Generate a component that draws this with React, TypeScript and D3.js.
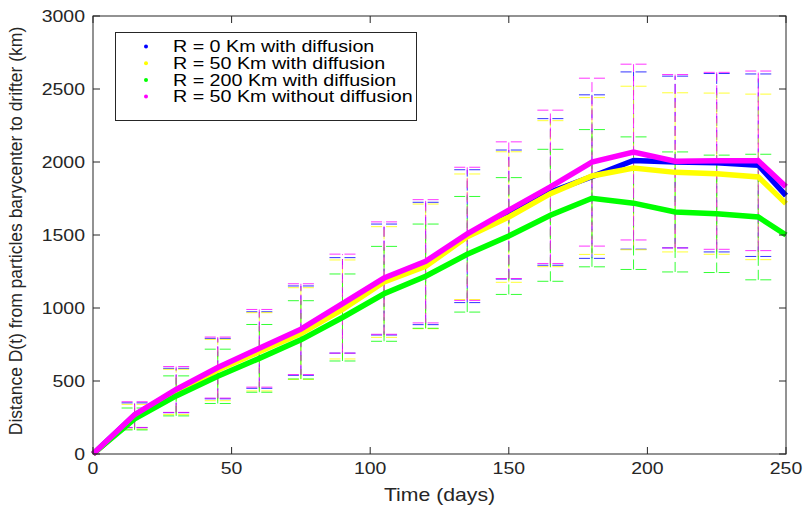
import React from 'react';
import * as d3 from 'd3';

const days = [0, 15, 30, 45, 60, 75, 90, 105, 120, 135, 150, 165, 180, 195, 210, 225, 240, 250];

const seriesLabels = [
  'R = 0 Km with diffusion',
  'R = 50 Km with diffusion',
  'R = 200 Km with diffusion',
  'R = 50 Km without diffusion',
];
const seriesColors = ['#0000ff', '#ffff00', '#00ff00', '#ff00ff'];

const r0Diff = [0, 265, 435, 585, 712, 845, 1018, 1195, 1305, 1492, 1640, 1795, 1900, 2010, 2000, 1995, 1978, 1770];
const r50Diff = [0, 255, 425, 575, 700, 825, 990, 1178, 1285, 1488, 1623, 1783, 1904, 1959, 1929, 1920, 1898, 1715];
const r200Diff = [0, 240, 398, 532, 655, 782, 935, 1097, 1218, 1368, 1493, 1635, 1752, 1718, 1658, 1645, 1623, 1500];
const r50NoDiff = [0, 270, 442, 592, 724, 855, 1030, 1205, 1320, 1508, 1670, 1830, 1999, 2068, 2005, 2008, 2008, 1830];

const r0DiffErr = [null, 85, 152, 207, 262, 306, 327, 380, 419, 455, 442, 502, 560, 607, 588, 611, 625, null];
const r50DiffErr = [null, 85, 155, 210, 268, 314, 339, 379, 427, 430, 447, 500, 537, 560, 545, 552, 567, null];
const r200DiffErr = [null, 75, 137, 186, 232, 268, 298, 325, 357, 396, 400, 452, 470, 454, 411, 402, 430, null];
const r50NoDiffErr = [null, 88, 157, 209, 266, 311, 339, 385, 422, 456, 468, 525, 575, 602, 594, 606, 615, null];

const xTicks = [0, 50, 100, 150, 200, 250];
const yTicks = [0, 500, 1000, 1500, 2000, 2500, 3000];

const means = [r0Diff, r50Diff, r200Diff, r50NoDiff];
const errs = [r0DiffErr, r50DiffErr, r200DiffErr, r50NoDiffErr];

const FONT = '"Liberation Sans", Arial, Helvetica, sans-serif';
const AX = '#262626';

function T(props: { x: number; y: number; anchor?: string; size: number; sx?: number; fill?: string; children: React.ReactNode }) {
  return (
    <text
      transform={`translate(${props.x},${props.y}) scale(${props.sx ?? 1.18},1)`}
      textAnchor={props.anchor || 'start'}
      fontFamily={FONT}
      fontSize={props.size}
      fill={props.fill || AX}
    >
      {props.children}
    </text>
  );
}

export default function App() {
  const x = d3.scaleLinear().domain([0, 250]).range([93, 786]);
  const y = d3.scaleLinear().domain([0, 3000]).range([454, 16]);
  const [x0, x1] = x.range();
  const [yb, yt] = y.range();
  const tick = 7;
  const capHalf = 13;

  const lineGen = (vals: number[]) =>
    d3.line<number>().x((_, i) => x(days[i])).y((d) => y(d))(vals) || '';

  return (
    <svg width={804} height={511} style={{ position: 'absolute', left: 0, top: 0, background: '#fff' }}>
      <rect x={0} y={0} width={804} height={511} fill="#fff" />
      {errs.map((e, si) => (
        <g key={'e' + si} stroke={seriesColors[si]} strokeWidth={1} fill="none" strokeOpacity={0.8}>
          {e.map((s, i) => {
            if (s === null) return null;
            const cx = x(days[i]);
            const m = means[si][i];
            const hi = y(m + s);
            const lo = y(m - s);
            return (
              <g key={i}>
                <line x1={cx} x2={cx} y1={lo} y2={hi} strokeDasharray="10,4" />
                <line x1={cx - capHalf} x2={cx + capHalf} y1={hi} y2={hi} strokeDasharray="11,4" />
                <line x1={cx - capHalf} x2={cx + capHalf} y1={lo} y2={lo} strokeDasharray="11,4" />
              </g>
            );
          })}
        </g>
      ))}
      {means.map((m, si) => (
        <path key={'l' + si} d={lineGen(m)} fill="none" stroke={seriesColors[si]} strokeWidth={5.5} />
      ))}
      <rect x={x0} y={yt} width={x1 - x0} height={yb - yt} fill="none" stroke={AX} strokeWidth={1} />
      {xTicks.map((t) => (
        <g key={'xt' + t}>
          <line x1={x(t)} x2={x(t)} y1={yb} y2={yb - tick} stroke={AX} />
          <line x1={x(t)} x2={x(t)} y1={yt} y2={yt + tick} stroke={AX} />
          <T x={x(t)} y={474} anchor="middle" size={16.5}>{t}</T>
        </g>
      ))}
      {yTicks.map((t) => (
        <g key={'yt' + t}>
          <line x1={x0} x2={x0 + tick} y1={y(t)} y2={y(t)} stroke={AX} />
          <line x1={x1} x2={x1 - tick} y1={y(t)} y2={y(t)} stroke={AX} />
          <T x={85} y={y(t) + 6} anchor="end" size={16.5}>{t}</T>
        </g>
      ))}
      <T x={(x0 + x1) / 2} y={501} anchor="middle" size={18}>Time (days)</T>
      <text
        transform={`translate(22,${(yt + yb) / 2 - 4}) rotate(-90)`}
        textAnchor="middle"
        fontFamily={FONT}
        fontSize={17.5}
        fill={AX}
      >
        Distance D(t) from particles barycenter to drifter (km)
      </text>
      <rect x={115.5} y={32.5} width={301} height={88} fill="#fff" stroke={AX} strokeWidth={1} />
      {seriesLabels.map((lab, i) => (
        <g key={'lg' + i}>
          <circle cx={146} cy={46.5 + i * 16.7} r={2} fill={seriesColors[i]} />
          <T x={173} y={52.3 + i * 16.7} size={16} sx={1.23} fill="#000">{lab}</T>
        </g>
      ))}
    </svg>
  );
}
